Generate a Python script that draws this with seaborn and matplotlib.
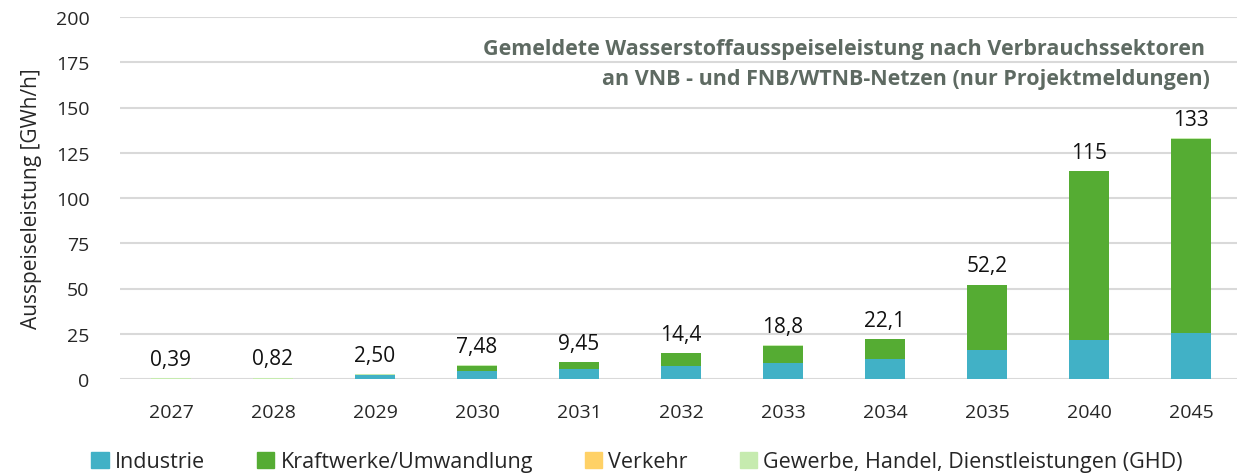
import numpy as np
import pandas as pd
import seaborn as sns
import matplotlib.pyplot as plt
from matplotlib.patches import Patch

years = ['2027', '2028', '2029', '2030', '2031', '2032', '2033', '2034', '2035', '2040', '2045']
industrie = [0.2, 0.12, 2.3, 4.3, 5.5, 7.4, 8.8, 10.9, 15.8, 21.7, 25.4]
kraftwerke = [0.0, 0.0, 0.0, 3.0, 3.8, 6.9, 9.6, 11.0, 36.2, 93.0, 107.3]
verkehr = [0.0, 0.0, 0.0, 0.1, 0.05, 0.0, 0.1, 0.0, 0.0, 0.1, 0.1]
ghd = [0.19, 0.7, 0.2, 0.08, 0.1, 0.1, 0.3, 0.2, 0.2, 0.2, 0.2]
totals = ['0,39', '0,82', '2,50', '7,48', '9,45', '14,4', '18,8', '22,1', '52,2', '115', '133']

sectors = ['Industrie', 'Kraftwerke/Umwandlung', 'Verkehr', 'Gewerbe, Handel, Dienstleistungen (GHD)']
colors = ['#41B1C6', '#55AC33', '#FFD166', '#C6EBAF']

df = pd.DataFrame({'Jahr': years, sectors[0]: industrie, sectors[1]: kraftwerke,
                   sectors[2]: verkehr, sectors[3]: ghd})
cum = df[sectors].cumsum(axis=1)

sns.set_style('white')
plt.rcParams['font.family'] = ['Open Sans', 'DejaVu Sans']

fig = plt.figure(figsize=(12.37, 4.77), dpi=100)
ax = fig.add_axes([120 / 1237, 97 / 477, 1122 / 1237, 362 / 477])

# stacked bars: draw cumulative sums from top layer down
for s, c in reversed(list(zip(sectors, colors))):
    sns.barplot(x=df['Jahr'], y=cum[s], color=c, width=0.4, linewidth=0,
                saturation=1, ax=ax, zorder=3)

for i, lab in enumerate(totals):
    ax.annotate(lab, (i, cum[sectors[-1]].iloc[i]), xytext=(0, 6), textcoords='offset points',
                ha='center', va='bottom', fontsize=15, color='#111111')

ax.set_ylim(0, 200)
ax.set_xlim(-0.5, 10.5)
ax.set_yticks(range(0, 201, 25))
ax.yaxis.grid(True, color='#D9D9D9', linewidth=1.5, zorder=0)
ax.set_axisbelow(True)
for sp in ax.spines.values():
    sp.set_visible(False)
ax.tick_params(axis='y', length=0, pad=22, labelsize=14)
ax.tick_params(axis='x', length=0, pad=17, labelsize=14)
ax.set_xlabel('')
ax.set_ylabel('Ausspeiseleistung [GWh/h]', fontsize=15, labelpad=10)

fig.text(1205 / 1237, 1 - 50 / 477, 'Gemeldete Wasserstoffausspeiseleistung nach Verbrauchssektoren',
         ha='right', va='center', fontsize=15.5, fontweight='bold', color='#5E6A62')
fig.text(1210 / 1237, 1 - 80 / 477, 'an VNB - und FNB/WTNB-Netzen (nur Projektmeldungen)',
         ha='right', va='center', fontsize=15.5, fontweight='bold', color='#5E6A62')

handles = [Patch(color=c, label=s) for s, c in zip(sectors, colors)]
fig.legend(handles=handles, loc='center', bbox_to_anchor=(0.515, 1 - 463 / 477), ncol=4,
           frameon=False, fontsize=15.5, handlelength=0.8, handleheight=0.8,
           handletextpad=0.3, columnspacing=2.4)

fig.savefig('out.png', dpi=100)
